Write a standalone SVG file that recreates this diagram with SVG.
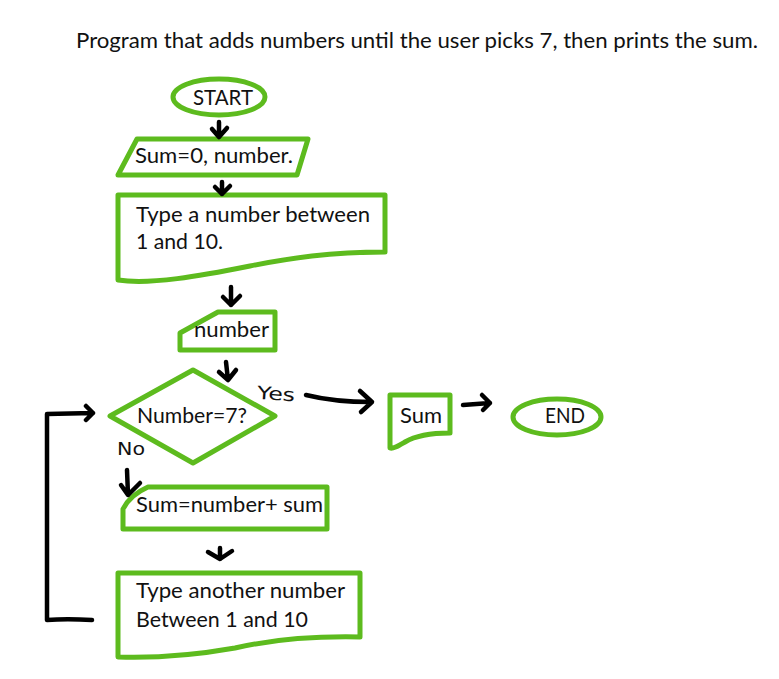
<svg xmlns="http://www.w3.org/2000/svg" width="779" height="679" viewBox="0 0 779 679">
<style>
.shape{fill:none;stroke:#5DBB1E;stroke-width:5;stroke-linejoin:round;stroke-linecap:round}
.t{font-family:Lato,"Open Sans","Liberation Sans",sans-serif;font-size:21px;fill:#111}
.hw{font-family:"DejaVu Sans","Liberation Sans",sans-serif;font-size:18px;fill:#111}
.conn{fill:none;stroke:#000;stroke-width:4.5;stroke-linecap:round;stroke-linejoin:round}
</style>
<rect width="779" height="679" fill="#fff"/>
<text class="t" x="76" y="48" font-size="21" textLength="682" lengthAdjust="spacingAndGlyphs">Program that adds numbers until the user picks 7, then prints the sum.</text>

<g id="start">
<ellipse class="shape" cx="219" cy="97" rx="46" ry="18"/>
<text class="t" x="193" y="105" textLength="60" lengthAdjust="spacingAndGlyphs">START</text>
</g>
<g id="init">
<path class="shape" d="M137,139 L308,139 L297,175 L118,175 Z"/>
<text class="t" x="135" y="163" textLength="158" lengthAdjust="spacingAndGlyphs">Sum=0, number.</text>
</g>
<g id="prompt1">
<path class="shape" d="M118,195 L385,195 L385,252 C330,252 290,258 250,266 C200,276 150,285 118,280 Z"/>
<text class="t" x="136" y="222" textLength="234" lengthAdjust="spacingAndGlyphs">Type a number between</text>
<text class="t" x="136" y="249" textLength="87" lengthAdjust="spacingAndGlyphs">1 and 10.</text>
</g>
<g id="input">
<path class="shape" d="M180,333 L218,312 L275,312 L275,350 L180,350 Z"/>
<text class="t" x="194" y="337" textLength="75" lengthAdjust="spacingAndGlyphs">number</text>
</g>
<g id="decision">
<path class="shape" d="M110,416 L193,370 L275,416 L193,463 Z"/>
<text class="t" x="137" y="423" textLength="110" lengthAdjust="spacingAndGlyphs">Number=7?</text>
</g>
<g id="output">
<path class="shape" d="M390,395 L450,395 L450,433 C430,433 415,436 405,442 C398,446 393,449 390,448 Z"/>
<text class="t" x="400" y="423" textLength="42" lengthAdjust="spacingAndGlyphs">Sum</text>
</g>
<g id="end">
<ellipse class="shape" cx="557" cy="417" rx="44" ry="18"/>
<text class="t" x="545" y="423" textLength="40" lengthAdjust="spacingAndGlyphs">END</text>
</g>
<g id="process">
<path class="shape" d="M148,487 L327,487 L327,529 L123,529 L123,509 Q130,495 148,487 Z"/>
<text class="t" x="136" y="512" textLength="187" lengthAdjust="spacingAndGlyphs">Sum=number+ sum</text>
</g>
<g id="prompt2">
<path class="shape" d="M118,573 L360,573 L360,637 C310,636 270,640 235,648 C190,656 150,658 118,657 Z"/>
<text class="t" x="136" y="598" textLength="209" lengthAdjust="spacingAndGlyphs">Type another number</text>
<text class="t" x="136" y="627" textLength="172" lengthAdjust="spacingAndGlyphs">Between 1 and 10</text>
</g>

<g id="connectors">
<path class="conn" d="M219,122 L219,137 M212,129 L219,137 L227,128"/>
<path class="conn" d="M222,182 L222,194 M215,187 L222,194 L230,186"/>
<path class="conn" d="M231,287 L231,305 M223,297 L231,305 L240,296"/>
<path class="conn" d="M226,362 L228,380 M219,372 L228,380 L236,370"/>
<path class="conn" d="M306,395 C330,401 350,402 372,402 M360,391 L372,402 L361,412"/>
<path class="conn" d="M463,405 L490,403 M482,395 L490,403 L483,410"/>
<path class="conn" d="M127,470 L128,495 M121,485 L128,495 L140,483"/>
<path class="conn" d="M220,548 L220,559 M208,552 L220,559 L232,551"/>
<path class="conn" d="M92,620 C75,619 60,619 47,620 L47,414 L93,413 M86,406 L93,413 L86,420"/>
<text class="hw" x="257" y="400" textLength="38" lengthAdjust="spacingAndGlyphs" transform="rotate(4 276 395)">Yes</text>
<text class="hw" x="117" y="455" textLength="28" lengthAdjust="spacingAndGlyphs">No</text>
</g>
</svg>
